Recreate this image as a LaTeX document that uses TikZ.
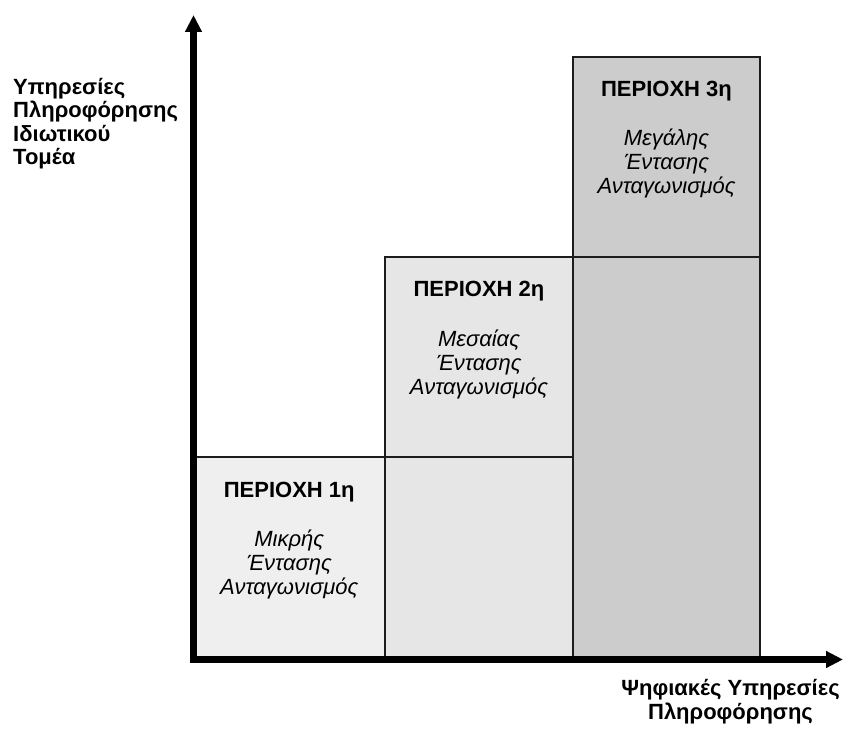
\documentclass[tikz,border=0pt]{standalone}
\usepackage{fontspec}
\setmainfont{Liberation Sans}
\usepackage{tikz}
\usetikzlibrary{arrows.meta, positioning, calc}
\definecolor{zoneA}{HTML}{EFEFEF}
\definecolor{zoneB}{HTML}{E6E6E6}
\definecolor{zoneC}{HTML}{CCCCCC}
\definecolor{edge}{HTML}{1C1C1C}

\begin{document}
\begin{tikzpicture}[x=1pt, y=1pt, >={Triangle[length=17pt, width=16pt]},
    zone/.style={draw=edge, line width=2pt, rectangle, inner sep=0pt, outer sep=0pt, anchor=south west},
    title/.style={font=\fontsize{22}{24}\selectfont\bfseries, anchor=base, inner sep=0pt},
    body/.style={font=\fontsize{22}{24}\selectfont\itshape, align=center, anchor=base, inner sep=0pt},
    axislabel/.style={font=\fontsize{22}{23.6}\selectfont\bfseries, inner sep=0pt}]

    \useasboundingbox (0,0) rectangle (845,729);

    \coordinate (origin) at (193.5,69.5);
    \coordinate (ytip) at (193.5,714);
    \coordinate (xtip) at (843,69.5);

    \node (zone1) at (origin) [zone, fill=zoneA, minimum width=191.5pt, minimum height=202.5pt] {};
    \node (zone2) at (zone1.south east) [zone, fill=zoneB, minimum width=188pt, minimum height=402.5pt] {};
    \node (zone3) at (zone2.south east) [zone, fill=zoneC, minimum width=187pt, minimum height=602.5pt] {};

    \draw[edge, line width=2pt] (zone2.west |- zone1.north) -- (zone2.east |- zone1.north);
    \draw[edge, line width=2pt] (zone3.west |- zone2.north) -- (zone3.east |- zone2.north);

    \node (title1) at ($(zone1.north)+(0,-40)$) [title] {ΠΕΡΙΟΧΗ 1η};
    \node (body1) at ($(title1.base)+(0,-97)$) [body] {Μικρής\\Έντασης\\Ανταγωνισμός};
    \node (title2) at ($(zone2.north)+(0,-40)$) [title] {ΠΕΡΙΟΧΗ 2η};
    \node (body2) at ($(title2.base)+(0,-97)$) [body] {Μεσαίας\\Έντασης\\Ανταγωνισμός};
    \node (title3) at ($(zone3.north)+(0,-40)$) [title] {ΠΕΡΙΟΧΗ 3η};
    \node (body3) at ($(title3.base)+(0,-97)$) [body] {Μεγάλης\\Έντασης\\Ανταγωνισμός};

    \draw[<->, line width=7pt] (ytip) -- (origin) -- (xtip);

    \node (ylabel) at (13,564) [axislabel, anchor=base west, align=left] {Υπηρεσίες\\Πληροφόρησης\\Ιδιωτικού\\Τομέα};
    \node (xlabel) at (730.5,10) [axislabel, anchor=base, align=center] {Ψηφιακές Υπηρεσίες\\Πληροφόρησης};
\end{tikzpicture}
\end{document}
